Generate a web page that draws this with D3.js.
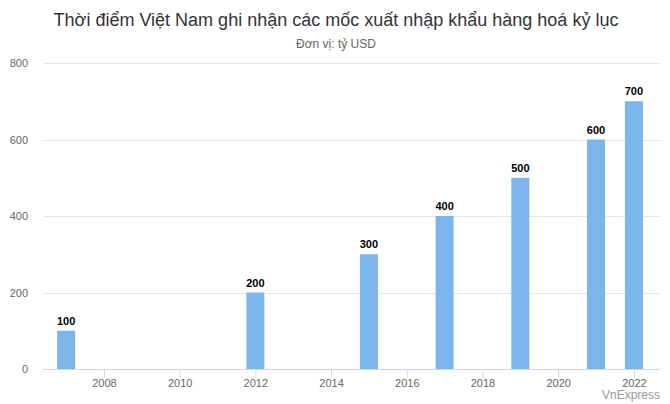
<!DOCTYPE html>
<html><head><meta charset="utf-8">
<script src="https://cdn.jsdelivr.net/npm/d3@7"></script>
<style>body{margin:0;background:#fff}svg{display:block;font-family:"Liberation Sans",Arial,sans-serif}</style>
</head><body><svg id="c" width="670" height="404"></svg>
<script>
const years = [2007, 2012, 2015, 2017, 2019, 2021, 2022];
const values = [100, 200, 300, 400, 500, 600, 700];
const yTicks = [0, 200, 400, 600, 800];
const xTicks = [2008, 2010, 2012, 2014, 2016, 2018, 2020, 2022];
const title = "Thời điểm Việt Nam ghi nhận các mốc xuất nhập khẩu hàng hoá kỷ lục";
const subtitle = "Đơn vị: tỷ USD";
const credit = "VnExpress";

const svg = d3.select("#c");
const L = 43, R = 660, T = 63, B = 369;
const x = d3.scaleLinear().domain([2006.39, 2022.69]).range([L, R]);
const y = d3.scaleLinear().domain([0, 800]).range([B, T]);

svg.append("text").attr("x", 336).attr("y", 26).attr("text-anchor", "middle")
  .attr("font-size", 18).attr("fill", "#333").text(title);
svg.append("text").attr("x", 336).attr("y", 48).attr("text-anchor", "middle")
  .attr("font-size", 12).attr("fill", "#666").text(subtitle);

const gy = svg.append("g");
gy.selectAll("line").data(yTicks.filter(d => d > 0)).join("line")
  .attr("x1", L).attr("x2", R).attr("y1", d => Math.round(y(d)) + 0.5).attr("y2", d => Math.round(y(d)) + 0.5)
  .attr("stroke", "#e6e6e6");
gy.selectAll("text").data(yTicks).join("text")
  .attr("x", 28).attr("y", d => y(d) + 4).attr("text-anchor", "end")
  .attr("font-size", 11).attr("fill", "#666").text(d => d);

svg.append("g").selectAll("rect").data(years.map((yr, i) => ({yr, v: values[i]}))).join("rect")
  .attr("x", d => x(d.yr) - 9).attr("width", 18)
  .attr("y", d => y(d.v)).attr("height", d => B - y(d.v))
  .attr("fill", "#7cb5ec");

const xAxis = d3.axisBottom(x).tickValues(xTicks).tickFormat(d3.format("d")).tickSize(8).tickPadding(2);
const gx = svg.append("g").attr("transform", `translate(0,${B + 0.5})`).call(xAxis);
gx.select(".domain").attr("stroke", "#ccd6eb").attr("d", `M${L},0H${R}`);
gx.selectAll(".tick line").attr("stroke", "#ccd6eb");
gx.selectAll(".tick text").attr("fill", "#666").attr("font-size", 11).attr("font-family", "Liberation Sans, Arial, sans-serif");

svg.append("g").selectAll("text").data(years.map((yr, i) => ({yr, v: values[i]}))).join("text")
  .attr("x", d => x(d.yr)).attr("y", d => y(d.v) - 6).attr("text-anchor", "middle")
  .attr("font-size", 11).attr("font-weight", "bold").attr("fill", "#000")
  .attr("stroke", "#fff").attr("stroke-width", 2).attr("paint-order", "stroke")
  .text(d => d.v);

svg.append("text").attr("x", 660).attr("y", 399).attr("text-anchor", "end")
  .attr("font-size", 12).attr("fill", "#999").text(credit);
</script></body></html>
